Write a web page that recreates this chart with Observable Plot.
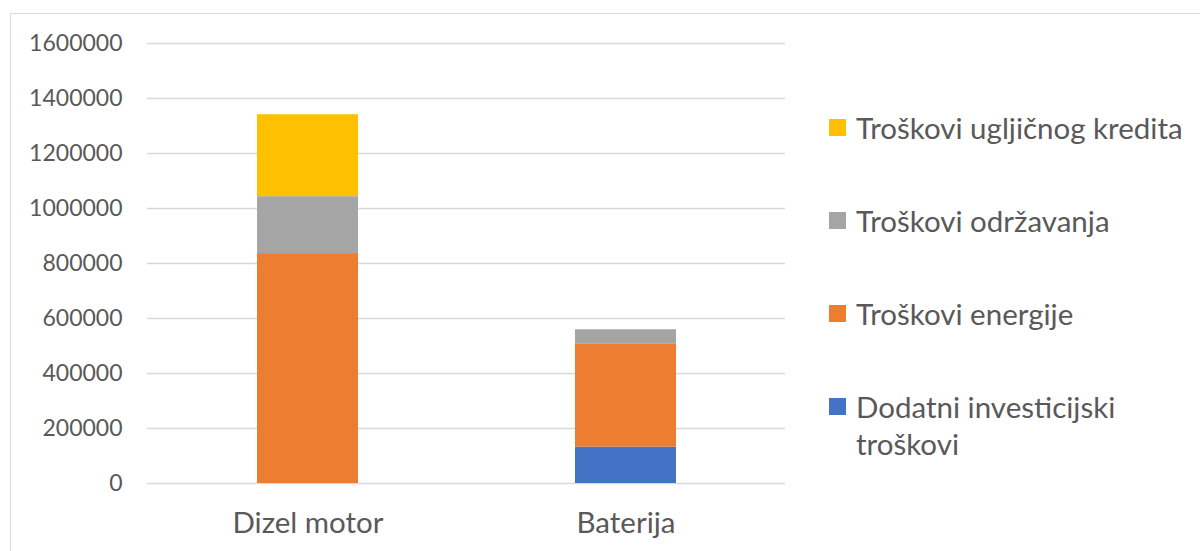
<!DOCTYPE html>
<html>
<head>
<meta charset="utf-8">
<script src="https://cdn.jsdelivr.net/npm/d3@7"></script>
<script src="https://cdn.jsdelivr.net/npm/@observablehq/plot@0.6"></script>
<style>
  html, body { margin: 0; padding: 0; background: #fff; overflow: hidden; }
  #wrap { position: relative; width: 1200px; height: 551px; font-family: "Lato", sans-serif; color: #595959; }
  #frame { position: absolute; left: 10px; top: 13px; width: 1300px; height: 700px; border: 1.5px solid #d9d9d9; box-sizing: border-box; }
  #chart { position: absolute; left: 0; top: 0; }
  #legend { position: absolute; left: 829px; top: 109px; display: flex; flex-direction: column; gap: 56px; }
  .item { display: flex; align-items: flex-start; }
  .sw { width: 17px; height: 17px; margin-top: 10px; flex: none; }
  .lab { margin-left: 10px; font-size: 29.5px; line-height: 37px; width: 345px; white-space: normal; }
</style>
</head>
<body>
<div id="wrap">
  <div id="frame"></div>
  <div id="chart"></div>
  <div id="legend"></div>
</div>
<script>
const categories = ["Dizel motor", "Baterija"];
const series = ["Dodatni investicijski troškovi", "Troškovi energije", "Troškovi održavanja", "Troškovi ugljičnog kredita"];
const colors = ["#4472C4", "#ED7D31", "#A5A5A5", "#FFC000"];
// values per series, in the order of categories
const investicijski = [0, 132000];
const energija = [836000, 376000];
const odrzavanje = [207000, 51000];
const ugljicni = [298000, 0];
const yTicks = [0, 200000, 400000, 600000, 800000, 1000000, 1200000, 1400000, 1600000];

const seriesValues = [investicijski, energija, odrzavanje, ugljicni];
const rows = [];
categories.forEach((c, i) => series.forEach((s, j) => rows.push({category: c, series: s, value: seriesValues[j][i]})));

const chart = Plot.plot({
  width: 800,
  height: 551,
  marginLeft: 147,
  marginRight: 15,
  marginTop: 43,
  marginBottom: 68,
  style: {fontFamily: "Lato, sans-serif", fontSize: "23px", color: "#595959", background: "transparent", overflow: "visible"},
  x: {domain: categories, paddingInner: 0.683, paddingOuter: 0.342, label: null},
  y: {domain: [0, 1600000], label: null},
  color: {domain: series, range: colors},
  marks: [
    Plot.gridY(yTicks, {stroke: "#d9d9d9", strokeOpacity: 1, strokeWidth: 1.5}),
    Plot.barY(rows, {x: "category", y: "value", fill: "series"}),
    Plot.axisY(yTicks, {tickSize: 0, tickPadding: 25, tickFormat: d => String(d), label: null, fontSize: 23}),
    Plot.axisX({tickSize: 0, tickPadding: 29, label: null, fontSize: 29.5})
  ]
});
document.getElementById("chart").appendChild(chart);

const legend = document.getElementById("legend");
series.slice().reverse().forEach((s, k) => {
  const idx = series.length - 1 - k;
  const item = document.createElement("div");
  item.className = "item";
  const sw = document.createElement("div");
  sw.className = "sw";
  sw.style.background = colors[idx];
  const lab = document.createElement("div");
  lab.className = "lab";
  lab.textContent = s;
  item.appendChild(sw);
  item.appendChild(lab);
  legend.appendChild(item);
});
</script>
</body>
</html>
